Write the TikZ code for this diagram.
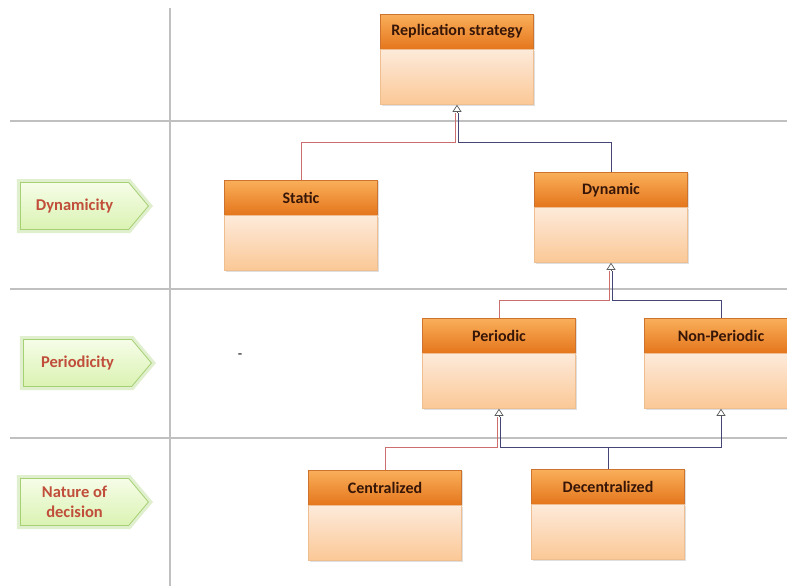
\documentclass[tikz,border=0pt]{standalone}
\usepackage{fontspec}
\setmainfont{Carlito}
\usetikzlibrary{arrows.meta,shapes.symbols,shadows}

\definecolor{laneGray}{RGB}{192,192,192}
\definecolor{headTop}{RGB}{250,175,90}
\definecolor{headBot}{RGB}{228,118,28}
\definecolor{headLine}{RGB}{205,115,45}
\definecolor{bodyTop}{RGB}{253,234,218}
\definecolor{bodyBot}{RGB}{251,200,150}
\definecolor{bodyLine}{RGB}{238,190,145}
\definecolor{boxText}{RGB}{55,22,8}
\definecolor{tagTop}{RGB}{246,253,232}
\definecolor{tagBot}{RGB}{218,242,178}
\definecolor{tagLine}{RGB}{165,208,115}
\definecolor{tagText}{RGB}{192,78,58}
\definecolor{wireRed}{RGB}{205,110,110}
\definecolor{wireBlue}{RGB}{70,70,118}

\tikzset{
  laneline/.style={laneGray, line width=1.6pt},
  headbox/.style={draw=headLine, top color=headTop, bottom color=headBot, minimum width=153pt, minimum height=35pt, anchor=north, inner sep=0pt, text=boxText, font=\fontsize{16}{19}\selectfont\bfseries, drop shadow={shadow xshift=1pt, shadow yshift=-1pt, opacity=0.25}},
  bodybox/.style={draw=bodyLine, top color=bodyTop, bottom color=bodyBot, minimum width=153pt, minimum height=55pt, anchor=north, inner sep=0pt, drop shadow={shadow xshift=1pt, shadow yshift=-1pt, opacity=0.25}},
  tagbox/.style={signal, signal to=east, signal pointer angle=100, draw=tagLine, line width=0.8pt, top color=tagTop, bottom color=tagBot, minimum width=128pt, minimum height=47pt, anchor=west, inner sep=2pt, align=center, text=tagText, font=\fontsize{16.5}{20}\selectfont\bfseries, preaction={draw=tagLine, line width=7pt, draw opacity=0.35}},
  redwire/.style={wireRed, line width=0.9pt},
  bluewire/.style={wireBlue, line width=0.9pt},
  genarrow/.style={gray!70!black, line width=0.7pt, -{Triangle[open, width=9pt, length=7pt]}}
}

\begin{document}
\begin{tikzpicture}[x=1pt, y=-1pt]
  \useasboundingbox (0,0) rectangle (787,586);
  % lanes
  \draw[laneline] (170,8) -- (170,586);
  \foreach \y in {121,289,438}
    \draw[laneline] (10,\y) -- (787,\y);

  \node[tagbox] (dyntag) at (20,206) {Dynamicity};
  \node[tagbox] (pertag) at (23,363) {Periodicity};
  \node[tagbox] (dectag) at (20,502) {Nature of\\decision};
  \node[font=\Large] (dash) at (240,356) {-};

  % classes
  \node[headbox] (rephead) at (457,14) {Replication strategy};
  \node[bodybox] (repbody) at (rephead.south) {};
  \node[headbox] (stathead) at (301,180) {Static};
  \node[bodybox] (statbody) at (stathead.south) {};
  \node[headbox] (dynhead) at (611,172) {Dynamic};
  \node[bodybox] (dynbody) at (dynhead.south) {};
  \node[headbox] (perhead) at (499,318) {Periodic};
  \node[bodybox] (perbody) at (perhead.south) {};
  \node[headbox] (nonhead) at (721,318) {Non-Periodic};
  \node[bodybox] (nonbody) at (nonhead.south) {};
  \node[headbox] (centhead) at (385,470) {Centralized};
  \node[bodybox] (centbody) at (centhead.south) {};
  \node[headbox] (dechead) at (608,469) {Decentralized};
  \node[bodybox] (decbody) at (dechead.south) {};

  % generalizations
  \draw[genarrow] ([yshift=-8pt]repbody.south) -- (repbody.south);
  \draw[redwire] (stathead.north) -- ++(0,-38) -| ([xshift=-1.5pt,yshift=-8pt]repbody.south);
  \draw[bluewire] (dynhead.north) -- ++(0,-30) -| ([xshift=1.5pt,yshift=-8pt]repbody.south);

  \draw[genarrow] ([yshift=-8pt]dynbody.south) -- (dynbody.south);
  \draw[redwire] (perhead.north) -- ++(0,-18) -| ([xshift=-1.5pt,yshift=-8pt]dynbody.south);
  \draw[bluewire] (nonhead.north) -- ++(0,-18) -| ([xshift=1.5pt,yshift=-8pt]dynbody.south);

  \draw[genarrow] ([yshift=-8pt]perbody.south) -- (perbody.south);
  \draw[genarrow] ([yshift=-8pt]nonbody.south) -- (nonbody.south);
  \draw[redwire] (centhead.north) -- ++(0,-23) -| ([xshift=-1.5pt,yshift=-8pt]perbody.south);
  \draw[bluewire] (dechead.north) -- ++(0,-22) -| ([xshift=1.5pt,yshift=-8pt]perbody.south);
  \draw[bluewire] (dechead.north) -- ++(0,-22) -| ([yshift=-8pt]nonbody.south);
\end{tikzpicture}
\end{document}
